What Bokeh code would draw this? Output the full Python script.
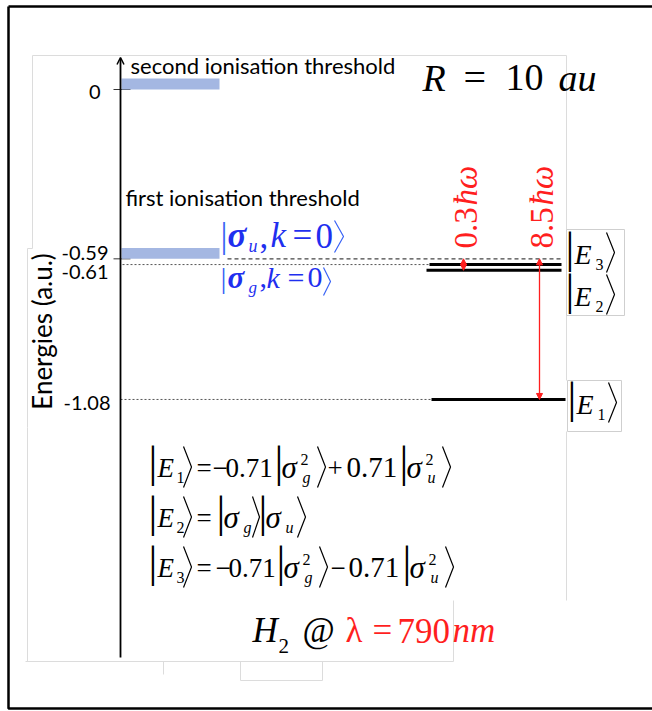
import math
from bokeh.plotting import figure
from bokeh.models import Range1d, Arrow, NormalHead, OpenHead
from bokeh.core.properties import value
from bokeh.embed import file_html
from bokeh.resources import INLINE

# ---------------- data ----------------
tick_values = [0.0, -0.59, -0.61, -1.08]
tick_labels = ["0", "-0.59", "-0.61", "-1.08"]
threshold_labels = ["second ionisation threshold", "first ionisation threshold"]
threshold_energies = [0.0, -0.59]
level_names = ["1", "2", "3"]
level_energies = [-1.08, -0.63, -0.61]
photon_numbers = ["0.3", "8.5"]
photon_start = [-0.59, -0.59]
photon_end = [-0.63, -1.08]
e1_signs = ["\u2212", "+"]
e1_coeffs = ["0.71", "0.71"]
e3_signs = ["\u2212", "\u2212"]
e3_coeffs = ["0.71", "0.71"]
R_value = "10"
wavelength = "790"

# ---------------- layout / style ----------------
W, H = 652, 711
PX_PER_AU = 287.0
ZERO_ROW = 89.0
E_TOP = ZERO_ROW / PX_PER_AU
E_BOT = -(H - ZERO_ROW) / PX_PER_AU
BAR_H = 0.038
SERIF = "Liberation Serif"
SANS = "Lato"
MID = {SERIF: 0.3375, SANS: 0.387}
BLUE = "#1f2fef"
BLUE_BR = "#3a64f5"
RED = "#ff1f1f"

p = figure(width=W, height=H, x_range=Range1d(0, W), y_range=Range1d(E_BOT, E_TOP),
           output_backend="svg", toolbar_location=None, min_border=0,
           x_axis_type=None, y_axis_type=None)
p.outline_line_color = None
p.background_fill_color = "white"
p.border_fill_color = "white"
p.extra_y_ranges = {"px": Range1d(H, 0)}


def put(x, base, text, size, style="normal", color="black", font=SERIF, align="left"):
    """Place text so that its alphabetic baseline sits on pixel row `base`."""
    p.text(x=[x], y=[base - MID[font] * size], text=[text], y_range_name="px",
           text_font=value(font), text_font_size=f"{size}px",
           text_font_style=style, text_color=color, text_align=align,
           text_baseline="middle")


def put_up(base_x, y_start, text, size, style="normal", color="black", font=SERIF):
    """Text reading upward, its baseline on pixel column base_x, starting at row y_start."""
    p.text(x=[base_x - MID[font] * size], y=[y_start], text=[text], y_range_name="px",
           text_font=value(font), text_font_size=f"{size}px",
           text_font_style=style, text_color=color, text_align="left",
           text_baseline="middle", angle=math.pi / 2)


def pline(xs, ys, color="#dcdcdc", width=1.0, dash="solid"):
    p.line(x=xs, y=ys, y_range_name="px", line_color=color, line_width=width, line_dash=dash)


def close_br(x, top, bottom, w=8, color="black", width=1.2):
    pline([x, x + w, x], [top, (top + bottom) / 2.0, bottom], color=color, width=width)


# ---- faint slide-box outlines and outer frame ----
pline([32, 566], [55, 55])
pline([32, 32, 27, 27, 27], [55, 248, 248, 427, 661])
pline([566, 566], [55, 229])
pline([566, 566], [315, 380])
pline([566, 566], [431, 600])
pline([25, 453], [661, 661])
pline([453, 453], [600, 661])
pline([163, 163], [661, 674])
pline([240, 240, 322, 322], [661, 680, 680, 661])
pline([566, 624, 624, 566, 566], [229, 229, 315, 315, 229], color="#cfcfcf")
pline([567, 621, 621, 567, 567], [380, 380, 431, 431, 380], color="#cfcfcf")
pline([8, 8, 660], [6, 708, 708], color="black", width=2.5)
pline([8, 660], [6, 6], color="black", width=2.5)

# ---- energy axis ----
p.add_layout(Arrow(end=OpenHead(size=7, line_width=1.5, line_color="black"),
                   x_start=120, y_start=657, x_end=120, y_end=57,
                   y_range_name="px", line_width=1.8, line_color="black"))
p.segment(x0=[113, 113], x1=[130, 130], y0=tick_values[:2], y1=tick_values[:2],
          line_color="#333333", line_width=1)
tick_label_x = [100, 108, 108, 110]
tick_label_nudge = [2, -6, 7, 4]
p.text(x=tick_label_x, y=tick_values, text=tick_labels, y_offset=tick_label_nudge,
       text_font=value(SANS), text_font_size="20px", text_align="right",
       text_baseline="middle", text_color="black")
p.text(x=[41], y=[331], text=["Energies (a.u.)"], y_range_name="px",
       text_font=value(SANS), text_font_size="26px", text_align="center",
       text_baseline="middle", angle=math.pi / 2, text_color="black")

# ---- ionisation thresholds ----
p.vbar(x=170, width=98, bottom=threshold_energies,
       top=[e + BAR_H for e in threshold_energies], fill_color="#a4b7e2", line_color=None)
put(130, 74, threshold_labels[0], 22, font=SANS)
put(125, 206, threshold_labels[1], 22, font=SANS)
p.segment(x0=227, x1=563, y0=threshold_energies[1], y1=threshold_energies[1],
          line_color="#444444", line_width=1.3, line_dash="4 3")

# ---- two-electron levels ----
level_x0 = [431, 426, 429]
level_x1 = [565, 561, 561]
p.segment(x0=level_x0, x1=level_x1, y0=level_energies, y1=level_energies,
          line_color="black", line_width=3)
guide = [level_energies[0], level_energies[2]]
p.segment(x0=[120, 122], x1=[431, 429], y0=guide, y1=guide,
          line_color="#555555", line_width=1, line_dash="2 2")

# ---- photon arrows ----
arrow_x = [463, 539]
for ax, y0, y1 in zip(arrow_x, photon_start, photon_end):
    p.add_layout(Arrow(start=NormalHead(size=6, fill_color=RED, line_color=RED),
                       end=NormalHead(size=6, fill_color=RED, line_color=RED),
                       x_start=ax, y_start=y0, x_end=ax, y_end=y1,
                       line_color=RED, line_width=1.3))
label_base_x = [477, 553]
for bx, n in zip(label_base_x, photon_numbers):
    put_up(bx, 248, n, 33, color=RED)
    put_up(bx, 205, "\u0127\u03c9", 33, style="italic", color=RED)

# ---- kets on the right ----
def ket_E(xbar, base, idx, big=44, size=28):
    put(xbar, base, "|", big)
    put(xbar + 9, base, "E", size, style="italic")
    put(xbar + 30, base + 6, idx, 16)
    close_br(xbar + 41, base - 31, base + 9)

ket_E(565, 263, level_names[2])
ket_E(565, 305, level_names[1])
ket_E(567, 413, level_names[0])

# sigma continuum labels
put(220, 247, "|", 35, color=BLUE_BR)
put(227, 247, "\u03c3", 35, style="bold italic", color=BLUE)
put(248, 252, "u", 18, style="italic", color=BLUE)
put(259, 247, ",", 35, color=BLUE)
put(270, 247, "k", 35, style="italic", color=BLUE)
put(292, 247, "=", 35, color=BLUE)
put(315, 247, "0", 35, color=BLUE)
close_br(334, 220, 252, w=9, color=BLUE_BR)

put(220, 287, "|", 30, color=BLUE_BR)
put(227, 287, "\u03c3", 31, style="bold italic", color=BLUE)
put(248, 293, "g", 17, style="italic", color=BLUE)
put(259, 287, ",", 30, color=BLUE)
put(266, 287, "k", 30, style="italic", color=BLUE)
put(287, 287, "=", 30, color=BLUE)
put(307, 287, "0", 30, color=BLUE)
close_br(323, 267, 295, w=7, color=BLUE_BR)

# ---- equations ----
S, SS, BIG, SIG = 27, 16, 44, 31


def sigma2(x, base, sub):
    put(x, base, "|", BIG)
    put(x + 7, base, "\u03c3", SIG, style="italic")
    put(x + 26, base - 13, "2", SS)
    put(x + 28, base + 5, sub, SS, style="italic")
    close_br(x + 43, base - 31, base + 10)


def eq_left(base, idx):
    put(148, base, "|", BIG)
    put(157, base, "E", 27, style="italic")
    put(176, base + 5, idx, SS)
    close_br(183, base - 31, base + 10)
    put(196, base, "=", S)


b1 = 477
eq_left(b1, level_names[0])
put(212, b1, e1_signs[0], S)
put(225, b1, e1_coeffs[0], S)
sigma2(274, b1, "g")
put(327, b1, e1_signs[1], S)
put(346, b1, e1_coeffs[1], 29)
sigma2(399, b1, "u")

b2 = 527
eq_left(b2, level_names[1])
put(216, b2, "|", BIG)
put(223, b2, "\u03c3", SIG, style="italic")
put(243, b2 + 5, "g", SS, style="italic")
close_br(252, b2 - 31, b2 + 10, w=7)
put(258, b2, "|", BIG)
put(265, b2, "\u03c3", SIG, style="italic")
put(285, b2 + 5, "u", SS, style="italic")
close_br(297, b2 - 31, b2 + 10)

b3 = 577
eq_left(b3, level_names[2])
put(215, b3, e3_signs[0], S)
put(228, b3, e3_coeffs[0], S)
sigma2(276, b3, "g")
put(330, b3, e3_signs[1], S)
put(348, b3, e3_coeffs[1], 29)
sigma2(402, b3, "u")

# ---- R and wavelength ----
put(422, 90, "R", 38, style="italic")
put(463, 90, "=", 40)
put(505, 90, R_value, 38)
put(558, 90, "au", 38, style="italic")

put(252, 642, "H", 35, style="italic")
put(278, 653, "2", 21)
put(302, 642, "@", 35)
put(345, 642, "\u03bb", 35, color=RED)
put(372, 642, "=", 35, color=RED)
put(397, 642, wavelength, 35, color=RED)
put(452, 642, "nm", 35, style="italic", color=RED)

open("out.html", "w").write(file_html(p, INLINE))
